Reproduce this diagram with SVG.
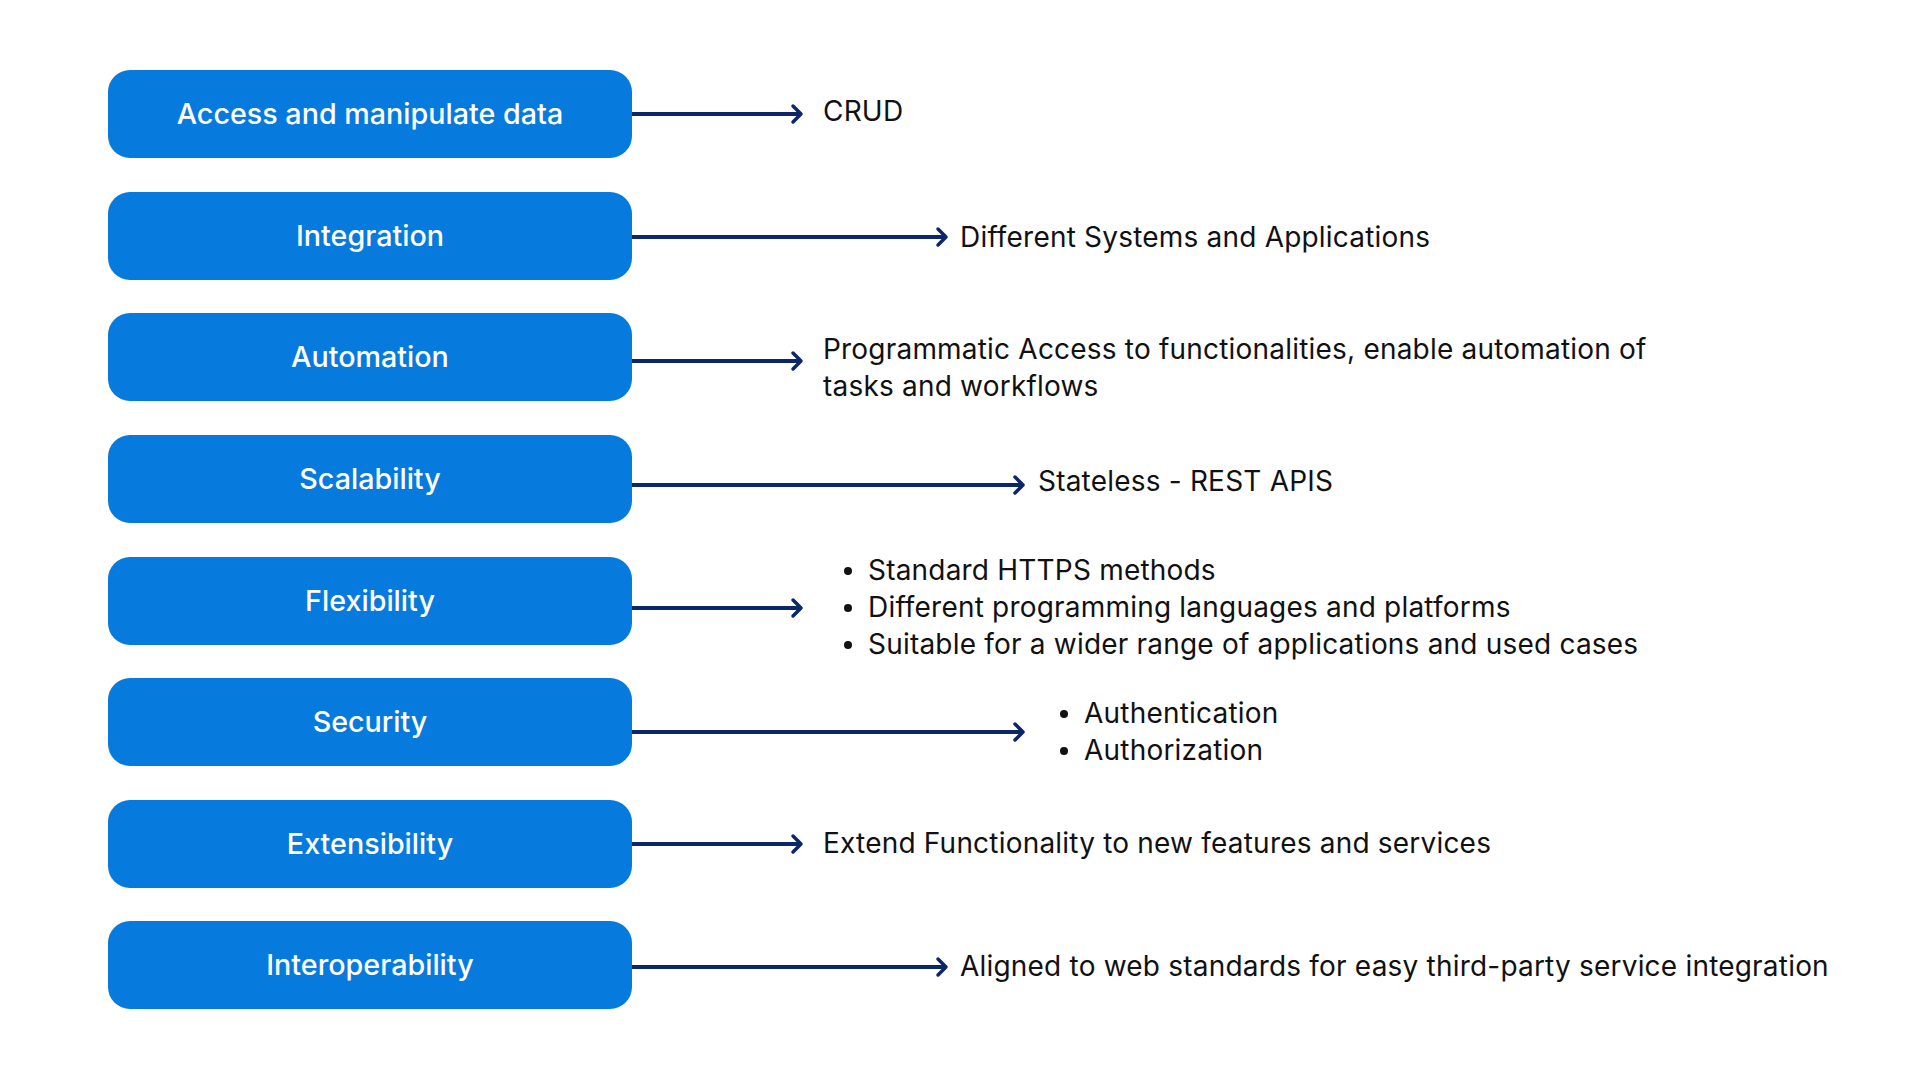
<svg xmlns="http://www.w3.org/2000/svg" width="1920" height="1080" viewBox="0 0 1920 1080">
  <defs>
    <style>
      .box { fill: #077ADE; }
      .lbl { fill: #FFFFFF; font-family: Inter, "Open Sans", "Liberation Sans", sans-serif; font-size: 28.7px; font-weight: 500; text-anchor: middle; }
      .txt { fill: #111111; font-family: Inter, "Open Sans", "Liberation Sans", sans-serif; font-size: 28px; letter-spacing: 0.2px; }
      .conn { stroke: #0C2767; stroke-width: 4; fill: none; }
      .dot { fill: #111111; }
    </style>
    <marker id="arrow" markerUnits="userSpaceOnUse" viewBox="0 0 14 22" markerWidth="14" markerHeight="22" refX="11" refY="11" orient="auto">
      <path d="M3,3 L11,11 L3,19" fill="none" stroke="#0C2767" stroke-width="3.5" stroke-linecap="round" stroke-linejoin="round"/>
    </marker>
  </defs>
  <rect width="1920" height="1080" fill="#FFFFFF"/>

  <g id="connectors">
    <line class="conn" x1="632" y1="114" x2="801" y2="114" marker-end="url(#arrow)"/>
    <line class="conn" x1="632" y1="237" x2="946" y2="237" marker-end="url(#arrow)"/>
    <line class="conn" x1="632" y1="361" x2="801" y2="361" marker-end="url(#arrow)"/>
    <line class="conn" x1="632" y1="485" x2="1023" y2="485" marker-end="url(#arrow)"/>
    <line class="conn" x1="632" y1="608" x2="801" y2="608" marker-end="url(#arrow)"/>
    <line class="conn" x1="632" y1="732" x2="1023" y2="732" marker-end="url(#arrow)"/>
    <line class="conn" x1="632" y1="844" x2="801" y2="844" marker-end="url(#arrow)"/>
    <line class="conn" x1="632" y1="967" x2="946" y2="967" marker-end="url(#arrow)"/>
  </g>

  <g id="node-access">
    <rect class="box" x="108" y="70" width="524" height="88" rx="22"/>
    <text class="lbl" x="370" y="124">Access and manipulate data</text>
  </g>
  <g id="node-integration">
    <rect class="box" x="108" y="192" width="524" height="88" rx="22"/>
    <text class="lbl" x="370" y="246">Integration</text>
  </g>
  <g id="node-automation">
    <rect class="box" x="108" y="313" width="524" height="88" rx="22"/>
    <text class="lbl" x="370" y="367">Automation</text>
  </g>
  <g id="node-scalability">
    <rect class="box" x="108" y="435" width="524" height="88" rx="22"/>
    <text class="lbl" x="370" y="489">Scalability</text>
  </g>
  <g id="node-flexibility">
    <rect class="box" x="108" y="557" width="524" height="88" rx="22"/>
    <text class="lbl" x="370" y="611">Flexibility</text>
  </g>
  <g id="node-security">
    <rect class="box" x="108" y="678" width="524" height="88" rx="22"/>
    <text class="lbl" x="370" y="732">Security</text>
  </g>
  <g id="node-extensibility">
    <rect class="box" x="108" y="800" width="524" height="88" rx="22"/>
    <text class="lbl" x="370" y="854">Extensibility</text>
  </g>
  <g id="node-interoperability">
    <rect class="box" x="108" y="921" width="524" height="88" rx="22"/>
    <text class="lbl" x="370" y="975">Interoperability</text>
  </g>

  <g id="desc-access">
    <text class="txt" x="823" y="121">CRUD</text>
  </g>
  <g id="desc-integration">
    <text class="txt" x="960" y="247">Different Systems and Applications</text>
  </g>
  <g id="desc-automation">
    <text class="txt" x="823" y="359">Programmatic Access to functionalities, enable automation of</text>
    <text class="txt" x="823" y="396">tasks and workflows</text>
  </g>
  <g id="desc-scalability">
    <text class="txt" x="1038" y="491">Stateless - REST APIS</text>
  </g>
  <g id="desc-flexibility">
    <circle class="dot" cx="848" cy="571" r="4"/>
    <text class="txt" x="868" y="580">Standard HTTPS methods</text>
    <circle class="dot" cx="848" cy="608" r="4"/>
    <text class="txt" x="868" y="617">Different programming languages and platforms</text>
    <circle class="dot" cx="848" cy="645" r="4"/>
    <text class="txt" x="868" y="654">Suitable for a wider range of applications and used cases</text>
  </g>
  <g id="desc-security">
    <circle class="dot" cx="1064" cy="714" r="4"/>
    <text class="txt" x="1084" y="723">Authentication</text>
    <circle class="dot" cx="1064" cy="751" r="4"/>
    <text class="txt" x="1084" y="760">Authorization</text>
  </g>
  <g id="desc-extensibility">
    <text class="txt" x="823" y="853">Extend Functionality to new features and services</text>
  </g>
  <g id="desc-interoperability">
    <text class="txt" x="960" y="976">Aligned to web standards for easy third-party service integration</text>
  </g>
</svg>
